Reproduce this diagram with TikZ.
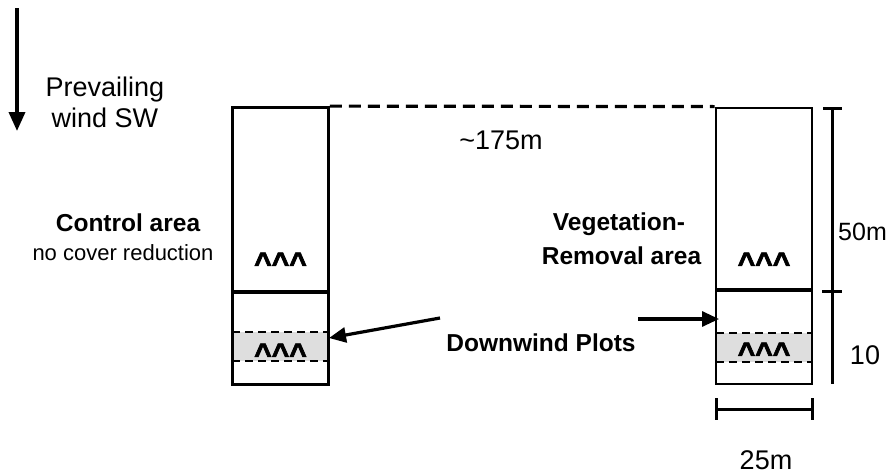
\documentclass[tikz,border=0pt]{standalone}
\usepackage{fontspec}
\setmainfont{Liberation Sans}
\newfontfamily\caretfont[FakeBold=2.5]{Liberation Sans}
\usetikzlibrary{arrows.meta}
\begin{document}
\begin{tikzpicture}[x=1pt,y=-1pt,
  plotbox/.style={draw, line width=2.8pt, inner sep=0pt, minimum width=96pt, minimum height=277pt},
  divider/.style={line width=3.4pt},
  band/.style={fill=black!13},
  bandline/.style={line width=2.3pt, dash pattern=on 8pt off 5pt},
  gapline/.style={line width=3.2pt, dash pattern=on 12pt off 7pt},
  dimline/.style={line width=3pt},
  lbl/.style={font=\fontsize{27}{31}\selectfont, inner sep=0pt},
  smalllbl/.style={font=\fontsize{22}{26}\selectfont, inner sep=0pt},
  blbl/.style={font=\bfseries\fontsize{24.5}{34}\selectfont, inner sep=0pt, align=center},
  caret/.style={font=\caretfont\bfseries\fontsize{30}{30}\selectfont, inner sep=0pt},
  arr/.style={line width=3.2pt, -{Triangle[length=17pt,width=15pt]}}
]
\useasboundingbox (0,0) rectangle (886,474);

% bands (behind boxes)
\fill[band] (232,332) rectangle (329,361);
\fill[band] (716,333) rectangle (812,362);
\draw[bandline] (232,332) -- (329,332);
\draw[bandline] (232,361) -- (329,361);
\draw[bandline] (716,333) -- (812,333);
\draw[bandline] (716,362) -- (812,362);

% plot boxes
\node[plotbox] (ctrl) at (280.5,246) {};
\node[plotbox, minimum height=276pt] (veg) at (764,246) {};
\draw[divider] (232,292) -- (329,292);
\draw[divider] (716,290) -- (812,290);

% distance line between areas
\draw[gapline] (ctrl.north east) -- (veg.north west);
\node[lbl] (dist) at (501,140) {\char`\~175m};

% wind
\coordinate (windtop) at (17,8);
\coordinate (windtip) at (17,131);
\draw[arr, line width=3.6pt, -{Triangle[length=19pt,width=16pt]}] (windtop) -- (windtip);
\node[lbl, align=center] (wind) at (105,102) {Prevailing\\wind SW};

% labels
\node[blbl] (ctrllbl) at (128,223) {Control area};
\node[smalllbl] (ctrlsub) at (123,253) {no cover reduction};
\node[blbl] (veglbl) at (619,239) {Vegetation-\\\hspace*{5pt}Removal area};

% carets
\node[caret] (c1) at (280.5,263) {\textasciicircum\textasciicircum\textasciicircum};
\node[caret] (c2) at (280.5,354) {\textasciicircum\textasciicircum\textasciicircum};
\node[caret] (c3) at (764,263) {\textasciicircum\textasciicircum\textasciicircum};
\node[caret] (c4) at (764,353) {\textasciicircum\textasciicircum\textasciicircum};

% downwind plots
\node[blbl] (dw) at (541,343) {Downwind Plots};
\coordinate (la) at (440,318);
\coordinate (lt) at (329,338);
\coordinate (ra) at (638,319);
\coordinate (rt) at (719,319);
\draw[arr] (la) -- (lt);
\draw[arr] (ra) -- (rt);

% vertical dimension
\coordinate (vtop) at (832,108);
\coordinate (vmid) at (832,291);
\coordinate (vbot) at (832,384);
\draw[dimline] (vtop) -- (vbot);
\draw[dimline] (823,108) -- (842,108);
\draw[dimline] (822,291) -- (842,291);
\node[lbl, anchor=west, font=\fontsize{25}{30}\selectfont] (fifty) at (838,232) {50m};
\node[lbl] (ten) at (865,355) {10};

% horizontal dimension
\coordinate (hl) at (716,409);
\coordinate (hr) at (812,409);
\draw[dimline] (hl) -- (hr);
\draw[dimline] (716,398) -- (716,420);
\draw[dimline] (812,398) -- (812,420);
\node[lbl] (tw) at (766,460) {25m};
\end{tikzpicture}
\end{document}
